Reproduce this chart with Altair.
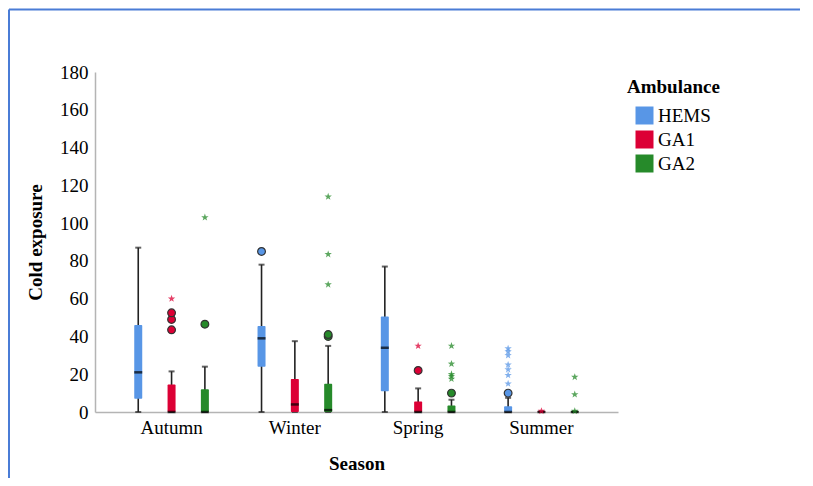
import altair as alt
import pandas as pd

seasons = ["Autumn", "Winter", "Spring", "Summer"]
groups = ["HEMS", "GA1", "GA2"]
colors = ["#5896E6", "#DC0035", "#268A2A"]
y_ticks = [0, 20, 40, 60, 80, 100, 120, 140, 160, 180]

# box summaries per (season, group): lower whisker, q1, median, q3, upper whisker
box_season = ["Autumn"] * 3 + ["Winter"] * 3 + ["Spring"] * 3 + ["Summer"] * 3
box_group = groups * 4
w_lo = [0, 0, 0, 0, 0, 0, 0, 0, 0, 0, 0, 0]
q1 = [7, 0, 0, 24, 0, 0, 11, 0, 0, 0, 0, 0]
med = [21, 0, 0, 39, 4, 1, 34, 0, 0, 0, 0, 0]
q3 = [46, 14.5, 12, 45.5, 17.5, 15, 50.5, 5.5, 3.5, 3, 0.4, 0.4]
w_hi = [87, 21.5, 24, 78, 37.5, 35, 77, 12.5, 6.5, 7.5, 0.4, 0.4]

# outliers (circles)
out_season = ["Autumn", "Autumn", "Autumn", "Autumn", "Winter", "Winter", "Winter",
              "Spring", "Spring", "Summer"]
out_group = ["GA1", "GA1", "GA1", "GA2", "HEMS", "GA2", "GA2", "GA1", "GA2", "HEMS"]
out_val = [43.5, 49, 52.5, 46.5, 85, 40, 41, 22, 10, 10]

# extremes (stars)
ext_season = ["Autumn", "Autumn", "Winter", "Winter", "Winter",
              "Spring", "Spring", "Spring", "Spring", "Spring", "Spring",
              "Summer", "Summer", "Summer", "Summer", "Summer", "Summer", "Summer",
              "Summer", "Summer", "Summer", "Summer"]
ext_group = ["GA1", "GA2", "GA2", "GA2", "GA2",
             "GA1", "GA2", "GA2", "GA2", "GA2", "GA2",
             "HEMS", "HEMS", "HEMS", "HEMS", "HEMS", "HEMS", "HEMS",
             "GA1", "GA2", "GA2", "GA2"]
ext_val = [60, 103, 67.5, 83.5, 114,
           35, 17.5, 19, 20, 25.5, 35,
           15, 19.5, 22.5, 25, 30, 32, 33.6,
           0.5, 0.5, 9.3, 18.5]

boxes = pd.DataFrame({"Season": box_season, "Ambulance": box_group, "lo": w_lo,
                      "q1": q1, "med": med, "q3": q3, "hi": w_hi})
outs = pd.DataFrame({"Season": out_season, "Ambulance": out_group, "v": out_val})
exts = pd.DataFrame({"Season": ext_season, "Ambulance": ext_group, "v": ext_val})

FONT = "Liberation Serif"
W, H = 523, 340
PL, PT, PR, PB = 87, 64, 182, 66

xenc = alt.X("Season:N", sort=seasons,
             scale=alt.Scale(paddingInner=0, paddingOuter=0.121),
             axis=alt.Axis(title="Season", labelAngle=0, ticks=False, labelPadding=6,
                           titlePadding=17))
xoff = alt.XOffset("Ambulance:N", sort=groups,
                   scale=alt.Scale(domain=groups, paddingInner=0, paddingOuter=0.35))
yscale = alt.Scale(domain=[0, 180], nice=False)
yaxis = alt.Axis(title="Cold exposure", values=y_ticks, ticks=False,
                 grid=False, labelPadding=7, titlePadding=14, labelOverlap=False,
                 labelBound=False, labelFlush=False)


def Y(field):
    return alt.Y(field, scale=yscale, axis=yaxis)


color = alt.Color("Ambulance:N", sort=groups,
                  scale=alt.Scale(domain=groups, range=colors),
                  legend=alt.Legend(title="Ambulance", orient="none", legendX=532,
                                    legendY=6, symbolType="square", symbolSize=324,
                                    symbolStrokeWidth=0, symbolOffset=8,
                                    rowPadding=4, titlePadding=9, labelOffset=4))

base = alt.Chart(boxes)

whisk = base.mark_rule(color="#222222", strokeWidth=1.6).encode(
    x=xenc, xOffset=xoff, y=Y("lo:Q"), y2="hi:Q")
caps = base.mark_tick(color="#222222", orient="horizontal", size=6, thickness=2).encode(
    x=xenc, xOffset=xoff, y=Y("hi:Q"))
caps_lo = base.mark_tick(color="#222222", orient="horizontal", size=6, thickness=2).encode(
    x=xenc, xOffset=xoff, y=Y("lo:Q"))
bars = base.mark_bar(width=8, cornerRadius=1).encode(
    x=xenc, xOffset=xoff, y=Y("q1:Q"), y2="q3:Q", color=color)
meds = base.mark_tick(color="black", orient="horizontal", size=8, thickness=2.5).encode(
    x=xenc, xOffset=xoff, y=Y("med:Q"))

circ = alt.Chart(outs).mark_point(shape="circle", filled=True, size=60, stroke="#333333",
                                  strokeWidth=1.2, opacity=1).encode(
    x=xenc, xOffset=xoff, y=Y("v:Q"),
    fill=alt.Fill("Ambulance:N", sort=groups,
                  scale=alt.Scale(domain=groups, range=colors), legend=None))

STAR = ("M0,-1L0.235,-0.324L0.951,-0.309L0.380,0.124L0.588,0.809L0,0.4"
        "L-0.588,0.809L-0.380,0.124L-0.951,-0.309L-0.235,-0.324Z")
stars = alt.Chart(exts).mark_point(shape=STAR, filled=True, size=60, opacity=0.75,
                                   strokeWidth=0).encode(
    x=xenc, xOffset=xoff, y=Y("v:Q"),
    fill=alt.Fill("Ambulance:N", sort=groups,
                  scale=alt.Scale(domain=groups, range=colors), legend=None))

frame_df = pd.DataFrame({"k": [0]})
frame_top = alt.Chart(frame_df).mark_rule(color="#4A7CD6", strokeWidth=2, clip=False).encode(
    x=alt.value(-PL + 1), x2=alt.value(W + PR), y=alt.value(-PT + 1.5))
frame_left = alt.Chart(frame_df).mark_rule(color="#4A7CD6", strokeWidth=2, clip=False).encode(
    x=alt.value(-PL + 1), y=alt.value(-PT + 1.5), y2=alt.value(H + PB))

chart = alt.layer(whisk, caps, caps_lo, bars, meds, circ, stars, frame_top, frame_left).properties(
    width=W, height=H,
    autosize=alt.AutoSizeParams(type="none"),
    padding={"left": PL, "top": PT, "right": PR, "bottom": PB},
    background="white",
).configure_view(stroke=None).configure_axis(
    labelFont=FONT, titleFont=FONT, labelFontSize=19, titleFontSize=19,
    labelColor="black", titleColor="black", titleFontWeight="bold",
    domainColor="#b4b4b4", domainWidth=1.5,
).configure_axisY(labelOverlap=False).configure_legend(
    labelFont=FONT, titleFont=FONT, labelFontSize=19, titleFontSize=19,
    labelColor="black", titleColor="black", titleFontWeight="bold", padding=0,
)

chart.save("out.html", embed_options={"renderer": "svg", "actions": False})
